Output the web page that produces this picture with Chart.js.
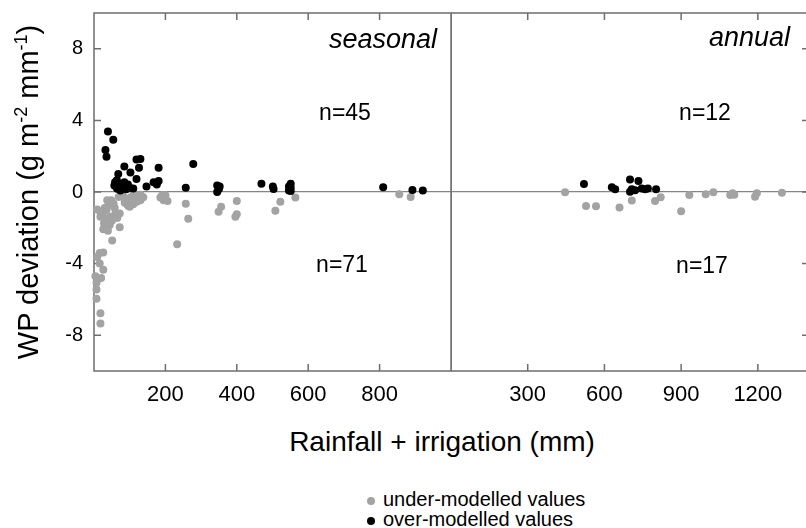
<!DOCTYPE html>
<html>
<head>
<meta charset="utf-8">
<script src="https://cdn.jsdelivr.net/npm/chart.js@4/dist/chart.umd.min.js"></script>
<style>
  body { margin: 0; background: #fff; font-family: "Liberation Sans", Arial, sans-serif; color: #000; }
  #page { position: relative; width: 806px; height: 528px; overflow: hidden; }
  canvas { position: absolute; top: 0; }
  .txt { position: absolute; white-space: nowrap; }
  .dot { position: absolute; width: 8px; height: 8px; border-radius: 50%; }
</style>
</head>
<body>
<div id="page">
  <canvas id="seasonalChart" width="452" height="420" style="left:0"></canvas>
  <canvas id="annualChart" width="360" height="420" style="left:451px"></canvas>

  <div class="txt" id="yTitle" style="left:-152px;top:177px;width:360px;height:30px;line-height:30px;font-size:29px;text-align:center;transform:rotate(-90deg)">WP deviation (g m<span style="font-size:18px;position:relative;top:-11px">-2</span> mm<span style="font-size:18px;position:relative;top:-11px">-1</span>)</div>
  <div class="txt" style="left:0;top:428px;width:884px;text-align:center;font-size:28px;line-height:28px">Rainfall + irrigation (mm)</div>

  <div class="txt" style="left:237px;top:26px;width:200px;text-align:right;font-size:27px;line-height:27px;font-style:italic">seasonal</div>
  <div class="txt" style="left:590px;top:24px;width:200px;text-align:right;font-size:27px;line-height:27px;font-style:italic">annual</div>
  <div class="txt" style="left:245px;top:101px;width:200px;text-align:center;font-size:23px;line-height:23px">n=45</div>
  <div class="txt" style="left:242px;top:253px;width:200px;text-align:center;font-size:23px;line-height:23px">n=71</div>
  <div class="txt" style="left:605px;top:101px;width:200px;text-align:center;font-size:23px;line-height:23px">n=12</div>
  <div class="txt" style="left:602px;top:254px;width:200px;text-align:center;font-size:23px;line-height:23px">n=17</div>

  <div class="dot" style="left:367px;top:497px;background:#a3a3a3"></div>
  <div class="txt" style="left:383px;top:489px;font-size:20px;line-height:20px">under-modelled values</div>
  <div class="dot" style="left:367px;top:517px;background:#000"></div>
  <div class="txt" style="left:383px;top:509px;font-size:20px;line-height:20px">over-modelled values</div>
</div>
<script>
const yTicks = [-8, -4, 0, 4, 8];
const seasonalTicks = [200, 400, 600, 800];
const annualTicks = [300, 600, 900, 1200];

// seasonal, over-modelled (black)
const seasonalOverRain = [39, 54, 32, 35, 85, 119, 130, 126, 102, 68, 119, 181, 278, 59, 57, 85, 95, 100, 65, 74,
  147, 167, 176, 181, 257, 345, 352, 345, 350, 469, 501, 503, 546, 546, 551, 551, 551, 810, 892, 921,
  62, 78, 90, 110, 64];
const seasonalOverDev = [3.38, 2.92, 2.34, 1.97, 1.42, 1.81, 1.85, 1.35, 1.09, 1.01, 0.72, 1.35, 1.57, 0.55, 0.37, 0.55, 0.42, 0.24, 0.18, 0.09,
  0.31, 0.55, 0.42, 0.61, 0.24, 0.37, 0.31, 0.0, 0.17, 0.46, 0.31, 0.17, 0.31, 0.09, 0.46, 0.24, 0.05, 0.26, 0.11, 0.08,
  0.3, 0.45, 0.15, 0.2, 0.65];

// seasonal, under-modelled (grey)
const seasonalUnderRain = [9, 18, 37, 41, 48, 55, 18, 32, 46, 60, 72, 28, 44, 26, 39, 72, 51, 69, 79, 84,
  93, 102, 111, 119, 100, 110, 128, 130, 186, 195, 206, 200, 191, 257, 264, 233, 349, 356, 400, 396,
  400, 508, 522, 16, 26, 9, 16, 26, 4, 13, 20, 7, 7, 7, 18, 18, 564, 855, 887,
  24, 35, 50, 58, 65, 30, 86, 95, 120, 138, 111, 130];
const seasonalUnderDev = [-0.98, -1.11, -0.46, -0.74, -0.46, -0.65, -1.38, -1.48, -1.38, -1.2, -1.2, -1.75, -1.85, -2.08, -2.16, -1.97, -2.71, -0.28, -0.09, -0.31,
  -0.46, -0.31, -0.5, -0.37, -0.83, -0.68, -0.24, -0.46, -0.31, -0.46, -0.5, -0.18, -0.18, -0.65, -1.49, -2.92, -1.11, -0.83, -0.5, -1.38,
  -1.24, -1.05, -0.55, -3.41, -3.38, -3.63, -4.0, -4.34, -4.7, -4.85, -4.8, -5.07, -5.44, -5.96, -6.77, -7.34, -0.31, -0.13, -0.28,
  -1.25, -1.0, -1.6, -0.9, -1.45, -0.9, -0.6, -0.75, -0.55, -0.3, -0.09, -0.15];

// annual, over-modelled (black)
const annualOverRain = [520, 629, 642, 700, 733, 700, 707, 746, 759, 802, 720, 770];
const annualOverDev = [0.44, 0.26, 0.15, 0.7, 0.61, 0.02, 0.15, 0.2, 0.15, 0.15, 0.1, 0.2];

// annual, under-modelled (grey)
const annualUnderRain = [446, 528, 567, 659, 707, 798, 820, 900, 932, 996, 1026, 1092, 1101, 1189, 1196, 1294, 1108];
const annualUnderDev = [-0.02, -0.78, -0.8, -0.86, -0.48, -0.5, -0.3, -1.08, -0.17, -0.13, -0.02, -0.17, -0.07, -0.26, -0.07, -0.04, -0.15];

const overColor = "#000000";
const underColor = "#a3a3a3";
const frameColor = "#6e6e6e";
const zeroColor = "#858585";
const fontFamily = "'Liberation Sans', Arial, sans-serif";

function toPoints(xs, ys) {
  return xs.map((x, i) => ({ x: x, y: ys[i] }));
}

// box round the plot area plus inward tick marks
const framePlugin = {
  id: "frame",
  beforeDatasetsDraw(chart, args, opts) {
    const ctx = chart.ctx;
    const a = chart.chartArea;
    const xs = chart.scales.x;
    const ys = chart.scales.y;
    const len = 7;
    ctx.save();
    ctx.strokeStyle = frameColor;
    ctx.lineWidth = 1.5;
    ctx.strokeRect(a.left, a.top, a.right - a.left, a.bottom - a.top);
    ctx.beginPath();
    xs.ticks.forEach(t => {
      const px = xs.getPixelForValue(t.value);
      ctx.moveTo(px, a.bottom);
      ctx.lineTo(px, a.bottom - len);
      ctx.moveTo(px, a.top);
      ctx.lineTo(px, a.top + len);
    });
    ys.ticks.forEach(t => {
      const py = ys.getPixelForValue(t.value);
      if (opts.left) {
        ctx.moveTo(a.left, py);
        ctx.lineTo(a.left + len, py);
      }
      if (opts.right) {
        ctx.moveTo(a.right, py);
        ctx.lineTo(a.right - len, py);
      }
    });
    ctx.stroke();
    ctx.restore();
  }
};

function makeChart(canvasId, overPts, underPts, xMax, xTicks, showY, padding) {
  return new Chart(document.getElementById(canvasId), {
    type: "scatter",
    data: {
      datasets: [
        { label: "over-modelled values", data: overPts, backgroundColor: overColor, pointRadius: 4, borderWidth: 0, clip: false },
        { label: "under-modelled values", data: underPts, backgroundColor: underColor, pointRadius: 4, borderWidth: 0, clip: false }
      ]
    },
    options: {
      responsive: false,
      animation: false,
      devicePixelRatio: 1,
      layout: { padding: padding, autoPadding: false },
      plugins: {
        legend: { display: false },
        tooltip: { enabled: false },
        frame: { left: showY, right: !showY }
      },
      scales: {
        x: {
          type: "linear",
          min: 0,
          max: xMax,
          afterBuildTicks: s => { s.ticks = xTicks.map(v => ({ value: v })); },
          afterFit: s => {
            s.height = 49;
            s.paddingLeft = 0;
            s.paddingRight = 0;
          },
          grid: { display: false, drawTicks: false },
          border: { display: false },
          ticks: {
            padding: 11,
            color: "#000",
            maxRotation: 0,
            font: { family: fontFamily, size: 22 },
            callback: v => String(v)
          }
        },
        y: {
          type: "linear",
          min: -10,
          max: 10,
          afterBuildTicks: s => { s.ticks = yTicks.map(v => ({ value: v })); },
          afterFit: s => {
            s.width = showY ? 94 : 0;
            s.paddingTop = 0;
            s.paddingBottom = 0;
          },
          grid: {
            drawTicks: false,
            lineWidth: 1.2,
            color: c => (c.tick && c.tick.value === 0 ? zeroColor : "rgba(0,0,0,0)")
          },
          border: { display: false },
          ticks: {
            display: showY,
            padding: 11,
            color: "#000",
            font: { family: fontFamily, size: 20 },
            callback: v => String(v)
          }
        }
      }
    },
    plugins: [framePlugin]
  });
}

makeChart("seasonalChart",
  toPoints(seasonalOverRain, seasonalOverDev),
  toPoints(seasonalUnderRain, seasonalUnderDev),
  1000, seasonalTicks, true, { top: 13, right: 1, bottom: 0, left: 0 });

makeChart("annualChart",
  toPoints(annualOverRain, annualOverDev),
  toPoints(annualUnderRain, annualUnderDev),
  1400, annualTicks, false, { top: 13, right: 2, bottom: 0, left: 0 });
</script>
</body>
</html>
